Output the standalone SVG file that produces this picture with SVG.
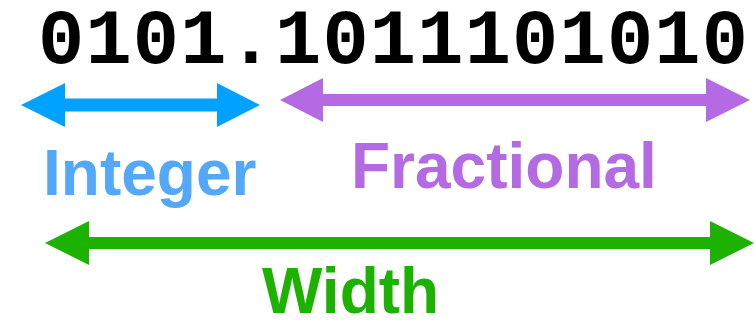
<svg xmlns="http://www.w3.org/2000/svg" width="754" height="324" viewBox="0 0 754 324">
  <style>
    .bits { font-family: "Liberation Mono", "Courier New", monospace; font-weight: bold; font-size: 77px; letter-spacing: 1.2px; fill: #000; }
    .label { font-family: "Liberation Sans", Arial, Helvetica, sans-serif; font-weight: bold; font-size: 64px; }
  </style>
  <rect width="754" height="324" fill="#fff"/>
  <g id="number">
    <text class="bits" x="38" y="63">0101.1011101010</text>
  </g>
  <g id="connectors">
    <!-- integer span -->
    <path d="M21,105 L65,83 L65,98.5 L217,98.5 L217,83 L260,105 L217,127 L217,111.5 L65,111.5 L65,127 Z" fill="#00A2FF"/>
    <!-- fractional span -->
    <path d="M280,100 L323,78 L323,94 L706,94 L706,78 L750,100 L706,122 L706,106 L323,106 L323,122 Z" fill="#B36AE2"/>
    <!-- total width -->
    <path d="M45,243 L89,221 L89,237 L710,237 L710,221 L754,243 L710,265 L710,249 L89,249 L89,265 Z" fill="#1DB100"/>
  </g>
  <g id="integer">
    <text class="label" x="43" y="195" fill="#53A8FA" font-size="65">Integer</text>
  </g>
  <g id="fractional">
    <text class="label" x="351" y="188" fill="#B36AE2">Fractional</text>
  </g>
  <g id="width">
    <text class="label" x="262" y="313" fill="#1DB100">Width</text>
  </g>
</svg>
